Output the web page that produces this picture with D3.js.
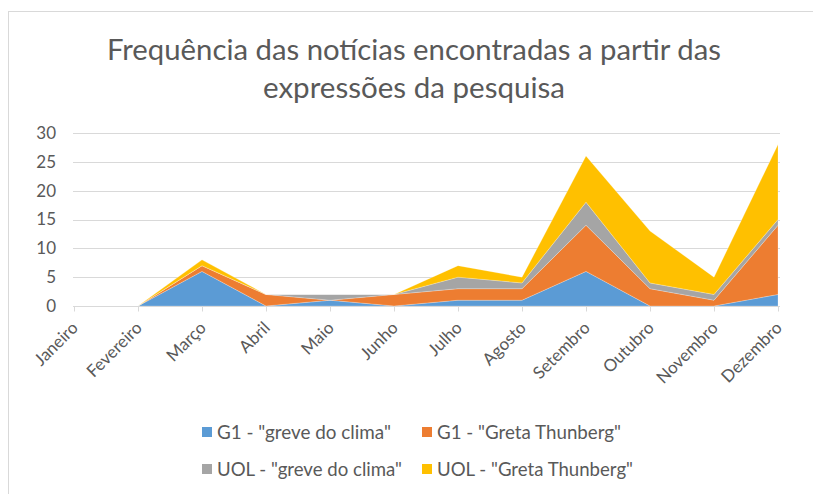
<!DOCTYPE html>
<html>
<head>
<meta charset="utf-8">
<script src="https://cdn.jsdelivr.net/npm/d3@7/dist/d3.min.js"></script>
<style>
  html, body { margin: 0; padding: 0; background: #fff; }
  svg { display: block; }
  text { font-family: Lato, "Open Sans", sans-serif; fill: #595959; }
</style>
</head>
<body>
<svg id="chart" width="813" height="494"></svg>
<script>
const months = ["Janeiro","Fevereiro","Março","Abril","Maio","Junho","Julho","Agosto","Setembro","Outubro","Novembro","Dezembro"];
const seriesNames = ['G1 - "greve do clima"', 'G1 - "Greta Thunberg"', 'UOL - "greve do clima"', 'UOL - "Greta Thunberg"'];
const g1Greve   = [0, 0, 6, 0, 1, 0, 1, 1, 6, 0, 0, 2];
const g1Greta   = [0, 0, 1, 2, 0, 2, 2, 2, 8, 3, 1, 12];
const uolGreve  = [0, 0, 0, 0, 1, 0, 2, 1, 4, 1, 1, 1];
const uolGreta  = [0, 0, 1, 0, 0, 0, 2, 1, 8, 9, 3, 13];
const yTicks = [0, 5, 10, 15, 20, 25, 30];
const colors = ["#5B9BD5", "#ED7D31", "#A5A5A5", "#FFC000"];
const titleLines = ["Frequência das notícias encontradas a partir das", "expressões da pesquisa"];

const svg = d3.select("#chart");

// outer border
svg.append("rect").attr("x", 8.5).attr("y", 11.5).attr("width", 830).attr("height", 520)
  .attr("fill", "none").attr("stroke", "#D9D9D9");

const x = d3.scalePoint().domain(months).range([74, 778]);
const y = d3.scaleLinear().domain([0, 30]).range([306, 133]);

// title
const titleWidths = [614, 302];
svg.append("g").selectAll("text").data(titleLines).join("text")
  .attr("x", 414).attr("y", (d, i) => 60 + i * 38)
  .attr("text-anchor", "middle")
  .attr("font-size", 28)
  .attr("textLength", (d, i) => titleWidths[i])
  .attr("lengthAdjust", "spacingAndGlyphs")
  .text(d => d);

// gridlines
svg.append("g").selectAll("line").data(yTicks.filter(t => t > 0)).join("line")
  .attr("x1", 73).attr("x2", 780)
  .attr("y1", d => Math.round(y(d)) + 0.5).attr("y2", d => Math.round(y(d)) + 0.5)
  .attr("stroke", "#D9D9D9").attr("stroke-width", 1);

// stacked areas
const table = months.map((m, i) => ({ month: m, s0: g1Greve[i], s1: g1Greta[i], s2: uolGreve[i], s3: uolGreta[i] }));
const stack = d3.stack().keys(["s0", "s1", "s2", "s3"]);
const layers = stack(table);
const area = d3.area()
  .x(d => x(d.data.month))
  .y0(d => y(d[0]))
  .y1(d => y(d[1]));
svg.append("g").selectAll("path").data(layers).join("path")
  .attr("d", area)
  .attr("fill", (d, i) => colors[i])
  .attr("stroke", "#fff").attr("stroke-width", 0.4).attr("stroke-opacity", 0.6);

// y axis labels
const yAxis = d3.axisLeft(y).tickValues(yTicks).tickSize(0).tickPadding(0);
const yg = svg.append("g").attr("transform", "translate(56,0)").call(yAxis);
yg.select(".domain").remove();
yg.selectAll("text").attr("font-size", 17).attr("fill", "#595959").style("font-family", "Lato, 'Open Sans', sans-serif");

// x axis
const xAxis = d3.axisBottom(x).tickSize(5).tickFormat("");
const xg = svg.append("g").attr("transform", "translate(0,306.5)").call(xAxis);
xg.select(".domain").attr("stroke", "#D9D9D9").attr("d", "M73,0H780");
xg.selectAll(".tick line").attr("stroke", "#D9D9D9");

// x labels rotated
svg.append("g").selectAll("text").data(months).join("text")
  .attr("transform", d => `translate(${x(d) + 5},${329}) rotate(-45)`)
  .attr("text-anchor", "end")
  .attr("font-size", 17)
  .text(d => d);

// legend
const legendPos = [[202, 432], [422, 432], [202, 469], [422, 469]];
const legendWidths = [174, 184, 185, 196];
const lg = svg.append("g");
seriesNames.forEach((name, i) => {
  const [lx, ly] = legendPos[i];
  lg.append("rect").attr("x", lx).attr("y", ly - 5).attr("width", 10).attr("height", 10).attr("fill", colors[i]);
  lg.append("text").attr("x", lx + 15).attr("y", ly + 6.5).attr("font-size", 19)
    .attr("textLength", legendWidths[i]).attr("lengthAdjust", "spacingAndGlyphs").text(name);
});
</script>
</body>
</html>
